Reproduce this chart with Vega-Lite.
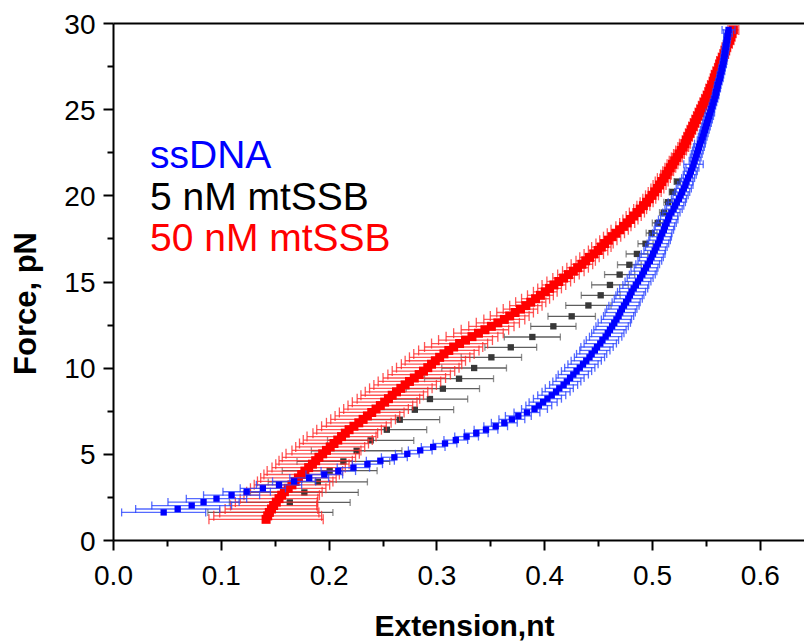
{
"$schema": "https://vega.github.io/schema/vega-lite/v6.json",
"width": 691, "height": 517,
"autosize": {"type": "none"},
"padding": {"left": 113, "top": 23, "right": 0, "bottom": 104},
"background": "white",
"config": {"view": {"stroke": null}, "font": "Liberation Sans"},
"resolve": {"axis": {"x": "independent", "y": "independent"}},
"datasets": {
"black": [
{"x":0.146,"y":1.6,"e":0.058},{"x":0.164,"y":2.18,"e":0.056},{"x":0.1775,"y":2.76,"e":0.05},{"x":0.19,"y":3.37,"e":0.046},{"x":0.201,"y":4.02,"e":0.044},{"x":0.2137,"y":4.56,"e":0.043},{"x":0.226,"y":5.18,"e":0.042},{"x":0.239,"y":5.78,"e":0.04},{"x":0.254,"y":6.4,"e":0.037},{"x":0.266,"y":6.98,"e":0.037},{"x":0.28,"y":7.56,"e":0.036},{"x":0.294,"y":8.18,"e":0.035},{"x":0.306,"y":8.78,"e":0.034},{"x":0.321,"y":9.36,"e":0.032},{"x":0.335,"y":9.98,"e":0.03},{"x":0.351,"y":10.6,"e":0.028},{"x":0.369,"y":11.18,"e":0.024},{"x":0.389,"y":11.78,"e":0.026},{"x":0.4085,"y":12.4,"e":0.021},{"x":0.4255,"y":12.98,"e":0.022},{"x":0.441,"y":13.61,"e":0.021},{"x":0.4524,"y":14.2,"e":0.018},{"x":0.461,"y":14.8,"e":0.017},{"x":0.47,"y":15.4,"e":0.014},{"x":0.479,"y":15.97,"e":0.011},{"x":0.486,"y":16.6,"e":0.01},{"x":0.494,"y":17.19,"e":0.007},{"x":0.4996,"y":17.81,"e":0.005},{"x":0.5053,"y":18.4,"e":0.005},{"x":0.511,"y":19.0,"e":0.004},{"x":0.515,"y":19.6,"e":0.004},{"x":0.519,"y":20.2,"e":0.003},{"x":0.5235,"y":20.8,"e":0.003}
],
"red": [
{"x":0.142,"y":1.2,"e":0.053},{"x":0.1435,"y":1.4,"e":0.05},{"x":0.145,"y":1.6,"e":0.046},{"x":0.147,"y":1.8,"e":0.043},{"x":0.149,"y":2.0,"e":0.04},{"x":0.1515,"y":2.2,"e":0.038},{"x":0.154,"y":2.4,"e":0.036},{"x":0.1565,"y":2.6,"e":0.035},{"x":0.159,"y":2.8,"e":0.035},{"x":0.1625,"y":3.0,"e":0.035},{"x":0.166,"y":3.2,"e":0.035},{"x":0.169,"y":3.4,"e":0.035},{"x":0.172,"y":3.6,"e":0.035},{"x":0.175,"y":3.8,"e":0.035},{"x":0.178,"y":4.0,"e":0.035},{"x":0.1815,"y":4.2,"e":0.034},{"x":0.185,"y":4.4,"e":0.034},{"x":0.188,"y":4.6,"e":0.034},{"x":0.191,"y":4.8,"e":0.034},{"x":0.1945,"y":5.0,"e":0.034},{"x":0.198,"y":5.2,"e":0.032},{"x":0.2015,"y":5.4,"e":0.032},{"x":0.205,"y":5.6,"e":0.032},{"x":0.2085,"y":5.8,"e":0.032},{"x":0.212,"y":6.0,"e":0.032},{"x":0.2155,"y":6.2,"e":0.03},{"x":0.219,"y":6.4,"e":0.03},{"x":0.2235,"y":6.6,"e":0.03},{"x":0.228,"y":6.8,"e":0.03},{"x":0.232,"y":7.0,"e":0.03},{"x":0.236,"y":7.2,"e":0.03},{"x":0.24,"y":7.4,"e":0.03},{"x":0.244,"y":7.6,"e":0.03},{"x":0.248,"y":7.8,"e":0.03},{"x":0.252,"y":8.0,"e":0.03},{"x":0.2555,"y":8.2,"e":0.029},{"x":0.259,"y":8.4,"e":0.029},{"x":0.263,"y":8.6,"e":0.029},{"x":0.267,"y":8.8,"e":0.029},{"x":0.271,"y":9.0,"e":0.029},{"x":0.275,"y":9.2,"e":0.029},{"x":0.2795,"y":9.4,"e":0.029},{"x":0.284,"y":9.6,"e":0.029},{"x":0.288,"y":9.8,"e":0.029},{"x":0.292,"y":10.0,"e":0.029},{"x":0.2955,"y":10.2,"e":0.028},{"x":0.299,"y":10.4,"e":0.028},{"x":0.303,"y":10.6,"e":0.028},{"x":0.307,"y":10.8,"e":0.028},{"x":0.3115,"y":11.0,"e":0.028},{"x":0.316,"y":11.2,"e":0.027},{"x":0.3215,"y":11.4,"e":0.026},{"x":0.327,"y":11.6,"e":0.025},{"x":0.333,"y":11.8,"e":0.024},{"x":0.339,"y":12.0,"e":0.023},{"x":0.345,"y":12.2,"e":0.022},{"x":0.351,"y":12.4,"e":0.021},{"x":0.357,"y":12.6,"e":0.02},{"x":0.363,"y":12.8,"e":0.019},{"x":0.368,"y":13.0,"e":0.018},{"x":0.373,"y":13.2,"e":0.017},{"x":0.378,"y":13.4,"e":0.016},{"x":0.383,"y":13.6,"e":0.015},{"x":0.3875,"y":13.8,"e":0.014},{"x":0.392,"y":14.0,"e":0.013},{"x":0.3965,"y":14.2,"e":0.012},{"x":0.401,"y":14.4,"e":0.011},{"x":0.405,"y":14.6,"e":0.011},{"x":0.409,"y":14.8,"e":0.011},{"x":0.4135,"y":15.0,"e":0.011},{"x":0.418,"y":15.2,"e":0.01},{"x":0.4225,"y":15.4,"e":0.01},{"x":0.427,"y":15.6,"e":0.01},{"x":0.431,"y":15.8,"e":0.01},{"x":0.435,"y":16.0,"e":0.01},{"x":0.4385,"y":16.2,"e":0.009},{"x":0.442,"y":16.4,"e":0.009},{"x":0.446,"y":16.6,"e":0.009},{"x":0.45,"y":16.8,"e":0.009},{"x":0.453,"y":17.0,"e":0.009},{"x":0.456,"y":17.2,"e":0.008},{"x":0.4595,"y":17.4,"e":0.008},{"x":0.463,"y":17.6,"e":0.008},{"x":0.4665,"y":17.8,"e":0.008},{"x":0.47,"y":18.0,"e":0.008},{"x":0.4735,"y":18.2,"e":0.007},{"x":0.477,"y":18.4,"e":0.007},{"x":0.48,"y":18.6,"e":0.007},{"x":0.483,"y":18.8,"e":0.007},{"x":0.486,"y":19.0,"e":0.007},{"x":0.489,"y":19.2,"e":0.006},{"x":0.492,"y":19.4,"e":0.006},{"x":0.495,"y":19.6,"e":0.006},{"x":0.4975,"y":19.8,"e":0.006},{"x":0.5,"y":20.0,"e":0.006},{"x":0.5025,"y":20.2,"e":0.006},{"x":0.505,"y":20.4,"e":0.006},{"x":0.507,"y":20.6,"e":0.006},{"x":0.509,"y":20.8,"e":0.006},{"x":0.511,"y":21.0,"e":0.006},{"x":0.513,"y":21.2,"e":0.005},{"x":0.515,"y":21.4,"e":0.005},{"x":0.517,"y":21.6,"e":0.005},{"x":0.519,"y":21.8,"e":0.005},{"x":0.521,"y":22.0,"e":0.005},{"x":0.523,"y":22.2,"e":0.005},{"x":0.525,"y":22.4,"e":0.005},{"x":0.527,"y":22.6,"e":0.005},{"x":0.529,"y":22.8,"e":0.005},{"x":0.5305,"y":23.0,"e":0.005},{"x":0.532,"y":23.2,"e":0.004},{"x":0.5335,"y":23.4,"e":0.004},{"x":0.535,"y":23.6,"e":0.004},{"x":0.5365,"y":23.8,"e":0.004},{"x":0.538,"y":24.0,"e":0.004},{"x":0.5395,"y":24.2,"e":0.004},{"x":0.541,"y":24.4,"e":0.004},{"x":0.5425,"y":24.6,"e":0.004},{"x":0.544,"y":24.8,"e":0.004},{"x":0.5455,"y":25.0,"e":0.004},{"x":0.547,"y":25.2,"e":0.004},{"x":0.5485,"y":25.4,"e":0.004},{"x":0.55,"y":25.6,"e":0.004},{"x":0.5515,"y":25.8,"e":0.004},{"x":0.553,"y":26.0,"e":0.004},{"x":0.554,"y":26.2,"e":0.004},{"x":0.5555,"y":26.4,"e":0.004},{"x":0.557,"y":26.6,"e":0.004},{"x":0.558,"y":26.8,"e":0.004},{"x":0.559,"y":27.0,"e":0.004},{"x":0.5605,"y":27.2,"e":0.004},{"x":0.562,"y":27.4,"e":0.004},{"x":0.563,"y":27.6,"e":0.004},{"x":0.564,"y":27.8,"e":0.004},{"x":0.5655,"y":28.0,"e":0.004},{"x":0.567,"y":28.2,"e":0.004},{"x":0.568,"y":28.4,"e":0.004},{"x":0.569,"y":28.6,"e":0.004},{"x":0.5705,"y":28.8,"e":0.004},{"x":0.572,"y":29.0,"e":0.004},{"x":0.573,"y":29.2,"e":0.004},{"x":0.574,"y":29.4,"e":0.004},{"x":0.5755,"y":29.6,"e":0.005}
],
"blue": [
{"x":0.047,"y":1.6,"e":0.039},{"x":0.06,"y":1.8,"e":0.039},{"x":0.073,"y":2.0,"e":0.037},{"x":0.084,"y":2.2,"e":0.033},{"x":0.096,"y":2.4,"e":0.028},{"x":0.11,"y":2.6,"e":0.026},{"x":0.124,"y":2.8,"e":0.022},{"x":0.139,"y":3.0,"e":0.021},{"x":0.154,"y":3.2,"e":0.021},{"x":0.168,"y":3.4,"e":0.02},{"x":0.182,"y":3.6,"e":0.018},{"x":0.196,"y":3.8,"e":0.017},{"x":0.209,"y":4.0,"e":0.016},{"x":0.223,"y":4.2,"e":0.015},{"x":0.236,"y":4.4,"e":0.014},{"x":0.248,"y":4.6,"e":0.013},{"x":0.261,"y":4.8,"e":0.012},{"x":0.273,"y":5.0,"e":0.011},{"x":0.285,"y":5.2,"e":0.011},{"x":0.297,"y":5.4,"e":0.011},{"x":0.308,"y":5.6,"e":0.011},{"x":0.318,"y":5.8,"e":0.011},{"x":0.328,"y":6.0,"e":0.011},{"x":0.337,"y":6.2,"e":0.011},{"x":0.346,"y":6.4,"e":0.011},{"x":0.355,"y":6.6,"e":0.011},{"x":0.363,"y":6.8,"e":0.012},{"x":0.37,"y":7.0,"e":0.012},{"x":0.376,"y":7.2,"e":0.012},{"x":0.384,"y":7.4,"e":0.012},{"x":0.391,"y":7.6,"e":0.012},{"x":0.395,"y":7.8,"e":0.012},{"x":0.399,"y":8.0,"e":0.013},{"x":0.403,"y":8.2,"e":0.013},{"x":0.407,"y":8.4,"e":0.013},{"x":0.411,"y":8.6,"e":0.013},{"x":0.414,"y":8.8,"e":0.013},{"x":0.418,"y":9.0,"e":0.013},{"x":0.421,"y":9.2,"e":0.013},{"x":0.424,"y":9.4,"e":0.013},{"x":0.427,"y":9.6,"e":0.014},{"x":0.43,"y":9.8,"e":0.014},{"x":0.433,"y":10.0,"e":0.014},{"x":0.436,"y":10.2,"e":0.014},{"x":0.439,"y":10.4,"e":0.014},{"x":0.442,"y":10.6,"e":0.014},{"x":0.444,"y":10.8,"e":0.014},{"x":0.447,"y":11.0,"e":0.014},{"x":0.449,"y":11.2,"e":0.015},{"x":0.452,"y":11.4,"e":0.015},{"x":0.454,"y":11.6,"e":0.015},{"x":0.457,"y":11.8,"e":0.015},{"x":0.459,"y":12.0,"e":0.015},{"x":0.461,"y":12.2,"e":0.015},{"x":0.463,"y":12.4,"e":0.015},{"x":0.465,"y":12.6,"e":0.015},{"x":0.467,"y":12.8,"e":0.014},{"x":0.469,"y":13.0,"e":0.014},{"x":0.4705,"y":13.2,"e":0.014},{"x":0.472,"y":13.4,"e":0.014},{"x":0.474,"y":13.6,"e":0.014},{"x":0.476,"y":13.8,"e":0.013},{"x":0.478,"y":14.0,"e":0.013},{"x":0.4795,"y":14.2,"e":0.013},{"x":0.481,"y":14.4,"e":0.013},{"x":0.483,"y":14.6,"e":0.013},{"x":0.485,"y":14.8,"e":0.012},{"x":0.487,"y":15.0,"e":0.012},{"x":0.489,"y":15.2,"e":0.012},{"x":0.491,"y":15.4,"e":0.012},{"x":0.4925,"y":15.6,"e":0.012},{"x":0.4945,"y":15.8,"e":0.011},{"x":0.496,"y":16.0,"e":0.011},{"x":0.498,"y":16.2,"e":0.011},{"x":0.4995,"y":16.4,"e":0.011},{"x":0.501,"y":16.6,"e":0.011},{"x":0.5025,"y":16.8,"e":0.01},{"x":0.504,"y":17.0,"e":0.01},{"x":0.5055,"y":17.2,"e":0.01},{"x":0.507,"y":17.4,"e":0.01},{"x":0.508,"y":17.6,"e":0.01},{"x":0.5095,"y":17.8,"e":0.009},{"x":0.511,"y":18.0,"e":0.009},{"x":0.512,"y":18.2,"e":0.009},{"x":0.5135,"y":18.4,"e":0.009},{"x":0.515,"y":18.6,"e":0.009},{"x":0.516,"y":18.8,"e":0.008},{"x":0.518,"y":19.0,"e":0.008},{"x":0.52,"y":19.2,"e":0.008},{"x":0.5215,"y":19.4,"e":0.008},{"x":0.523,"y":19.6,"e":0.008},{"x":0.525,"y":19.8,"e":0.007},{"x":0.5265,"y":20.0,"e":0.007},{"x":0.528,"y":20.2,"e":0.007},{"x":0.5295,"y":20.4,"e":0.007},{"x":0.531,"y":20.6,"e":0.007},{"x":0.532,"y":20.8,"e":0.006},{"x":0.5335,"y":21.0,"e":0.006},{"x":0.535,"y":21.2,"e":0.006},{"x":0.536,"y":21.4,"e":0.006},{"x":0.5375,"y":21.6,"e":0.006},{"x":0.5385,"y":21.8,"e":0.009},{"x":0.5395,"y":22.0,"e":0.005},{"x":0.5405,"y":22.2,"e":0.005},{"x":0.5415,"y":22.4,"e":0.005},{"x":0.5425,"y":22.6,"e":0.005},{"x":0.5435,"y":22.8,"e":0.005},{"x":0.5445,"y":23.0,"e":0.005},{"x":0.546,"y":23.2,"e":0.004},{"x":0.547,"y":23.4,"e":0.004},{"x":0.548,"y":23.6,"e":0.004},{"x":0.549,"y":23.8,"e":0.004},{"x":0.55,"y":24.0,"e":0.004},{"x":0.551,"y":24.2,"e":0.004},{"x":0.552,"y":24.4,"e":0.004},{"x":0.553,"y":24.6,"e":0.004},{"x":0.554,"y":24.8,"e":0.004},{"x":0.555,"y":25.0,"e":0.003},{"x":0.556,"y":25.2,"e":0.003},{"x":0.557,"y":25.4,"e":0.003},{"x":0.558,"y":25.6,"e":0.003},{"x":0.559,"y":25.8,"e":0.003},{"x":0.5595,"y":26.0,"e":0.003},{"x":0.5605,"y":26.2,"e":0.003},{"x":0.561,"y":26.4,"e":0.003},{"x":0.562,"y":26.6,"e":0.003},{"x":0.563,"y":26.8,"e":0.003},{"x":0.5635,"y":27.0,"e":0.003},{"x":0.5645,"y":27.2,"e":0.003},{"x":0.565,"y":27.4,"e":0.003},{"x":0.566,"y":27.6,"e":0.003},{"x":0.5665,"y":27.8,"e":0.003},{"x":0.567,"y":28.0,"e":0.003},{"x":0.5675,"y":28.2,"e":0.003},{"x":0.568,"y":28.4,"e":0.003},{"x":0.5685,"y":28.6,"e":0.003},{"x":0.569,"y":28.8,"e":0.003},{"x":0.5695,"y":29.0,"e":0.003},{"x":0.57,"y":29.2,"e":0.003},{"x":0.5705,"y":29.4,"e":0.004},{"x":0.571,"y":29.6,"e":0.006}
]
},
"layer": [
{"data": {"name": "black"}, "mark": {"type": "point", "opacity": 0},
 "encoding": {
  "x": {"field": "x", "type": "quantitative", "scale": {"domain": [0, 0.641], "nice": false, "zero": false},
   "axis": {"orient": "bottom", "values": [0, 0.1, 0.2, 0.3, 0.4, 0.5, 0.6], "format": ".1f", "grid": false,
    "title": "Extension,nt", "titleFont": "Liberation Sans", "titleFontSize": 30, "titleFontWeight": "bold", "titleColor": "black",
    "titleX": 351, "titleY": 95, "titleAlign": "center", "titleBaseline": "alphabetic", "titleAnchor": null,
    "labelFont": "Liberation Sans", "labelFontSize": 28, "labelColor": "black", "labelPadding": 12, "labelFlush": false, "labelOverlap": false,
    "tickSize": 10, "tickWidth": 2, "tickColor": "black", "domainColor": "black", "domainWidth": 2}},
  "y": {"field": "y", "type": "quantitative", "scale": {"domain": [0, 30], "nice": false, "zero": false},
   "axis": {"orient": "left", "values": [0, 5, 10, 15, 20, 25, 30], "grid": false,
    "title": "Force, pN", "titleFont": "Liberation Sans", "titleFontSize": 31, "titleFontWeight": "bold", "titleColor": "black",
    "titleX": -78, "titleY": 280, "titleAngle": 270, "titleAlign": "center", "titleBaseline": "alphabetic", "titleAnchor": null,
    "labelFont": "Liberation Sans", "labelFontSize": 28, "labelColor": "black", "labelPadding": 8, "labelOffset": 2, "labelFlush": false, "labelOverlap": false,
    "tickSize": 10, "tickWidth": 2, "tickColor": "black", "domainColor": "black", "domainWidth": 2}}
 }},
{"data": {"name": "black"}, "mark": {"type": "point", "opacity": 0},
 "encoding": {
  "x": {"field": "x", "type": "quantitative", "scale": {"domain": [0, 0.641], "nice": false, "zero": false},
   "axis": {"orient": "bottom", "values": [0.05, 0.15, 0.25, 0.35, 0.45, 0.55], "labels": false, "domain": false, "grid": false, "title": null,
    "tickSize": 6, "tickWidth": 2, "tickColor": "black"}},
  "y": {"field": "y", "type": "quantitative", "scale": {"domain": [0, 30], "nice": false, "zero": false},
   "axis": {"orient": "left", "values": [2.5, 7.5, 12.5, 17.5, 22.5, 27.5], "labels": false, "domain": false, "grid": false, "title": null,
    "tickSize": 6, "tickWidth": 2, "tickColor": "black"}}
 }},
{"data": {"name": "black"}, "mark": {"type": "point", "opacity": 0},
 "encoding": {
  "x": {"field": "x", "type": "quantitative", "scale": {"domain": [0, 0.641], "nice": false, "zero": false},
   "axis": {"orient": "top", "labels": false, "ticks": false, "grid": false, "title": null, "domain": true, "domainColor": "black", "domainWidth": 2}},
  "y": {"field": "y", "type": "quantitative", "scale": {"domain": [0, 30], "nice": false, "zero": false}, "axis": null}
 }},
{"data": {"name": "black"}, "mark": {"type": "errorbar", "ticks": true, "size": 7, "thickness": 1.3, "color": "#5e5e5e"},
 "encoding": {
  "x": {"field": "x", "type": "quantitative", "scale": {"domain": [0, 0.641], "nice": false, "zero": false}, "axis": null},
  "xError": {"field": "e"},
  "y": {"field": "y", "type": "quantitative", "scale": {"domain": [0, 30], "nice": false, "zero": false}, "axis": null}
 }},
{"data": {"name": "black"}, "mark": {"type": "square", "size": 40, "color": "#383838", "opacity": 1},
 "encoding": {
  "x": {"field": "x", "type": "quantitative", "scale": {"domain": [0, 0.641], "nice": false, "zero": false}, "axis": null},
  "y": {"field": "y", "type": "quantitative", "scale": {"domain": [0, 30], "nice": false, "zero": false}, "axis": null}
 }},
{"data": {"name": "red"}, "mark": {"type": "errorbar", "ticks": true, "size": 10, "thickness": 1.3, "color": "#ff2a2a", "opacity": 0.8},
 "encoding": {
  "x": {"field": "x", "type": "quantitative", "scale": {"domain": [0, 0.641], "nice": false, "zero": false}, "axis": null},
  "xError": {"field": "e"},
  "y": {"field": "y", "type": "quantitative", "scale": {"domain": [0, 30], "nice": false, "zero": false}, "axis": null}
 }},
{"data": {"name": "red"}, "mark": {"type": "square", "size": 81, "color": "#ff0000", "opacity": 1},
 "encoding": {
  "x": {"field": "x", "type": "quantitative", "scale": {"domain": [0, 0.641], "nice": false, "zero": false}, "axis": null},
  "y": {"field": "y", "type": "quantitative", "scale": {"domain": [0, 30], "nice": false, "zero": false}, "axis": null}
 }},
{"data": {"name": "blue"}, "mark": {"type": "errorbar", "ticks": true, "size": 8, "thickness": 1.3, "color": "#2a45ff", "opacity": 0.8},
 "encoding": {
  "x": {"field": "x", "type": "quantitative", "scale": {"domain": [0, 0.641], "nice": false, "zero": false}, "axis": null},
  "xError": {"field": "e"},
  "y": {"field": "y", "type": "quantitative", "scale": {"domain": [0, 30], "nice": false, "zero": false}, "axis": null}
 }},
{"data": {"name": "blue"}, "mark": {"type": "square", "size": 40, "color": "#0000ff", "opacity": 1},
 "encoding": {
  "x": {"field": "x", "type": "quantitative", "scale": {"domain": [0, 0.641], "nice": false, "zero": false}, "axis": null},
  "y": {"field": "y", "type": "quantitative", "scale": {"domain": [0, 30], "nice": false, "zero": false}, "axis": null}
 }},
{"data": {"values": [{"t": "ssDNA"}]}, "mark": {"type": "text", "align": "left", "baseline": "alphabetic", "font": "Liberation Sans", "fontSize": 39, "color": "#0000ff"},
 "encoding": {
  "x": {"datum": 0.0343, "type": "quantitative", "scale": {"domain": [0, 0.641], "nice": false, "zero": false}, "axis": null},
  "y": {"datum": 21.59, "type": "quantitative", "scale": {"domain": [0, 30], "nice": false, "zero": false}, "axis": null},
  "text": {"field": "t"}
 }},
{"data": {"values": [{"t": "5 nM mtSSB"}]}, "mark": {"type": "text", "align": "left", "baseline": "alphabetic", "font": "Liberation Sans", "fontSize": 39, "color": "#000000"},
 "encoding": {
  "x": {"datum": 0.0343, "type": "quantitative", "scale": {"domain": [0, 0.641], "nice": false, "zero": false}, "axis": null},
  "y": {"datum": 19.17, "type": "quantitative", "scale": {"domain": [0, 30], "nice": false, "zero": false}, "axis": null},
  "text": {"field": "t"}
 }},
{"data": {"values": [{"t": "50 nM mtSSB"}]}, "mark": {"type": "text", "align": "left", "baseline": "alphabetic", "font": "Liberation Sans", "fontSize": 39, "color": "#ff0000"},
 "encoding": {
  "x": {"datum": 0.0343, "type": "quantitative", "scale": {"domain": [0, 0.641], "nice": false, "zero": false}, "axis": null},
  "y": {"datum": 16.75, "type": "quantitative", "scale": {"domain": [0, 30], "nice": false, "zero": false}, "axis": null},
  "text": {"field": "t"}
 }}
]
}
